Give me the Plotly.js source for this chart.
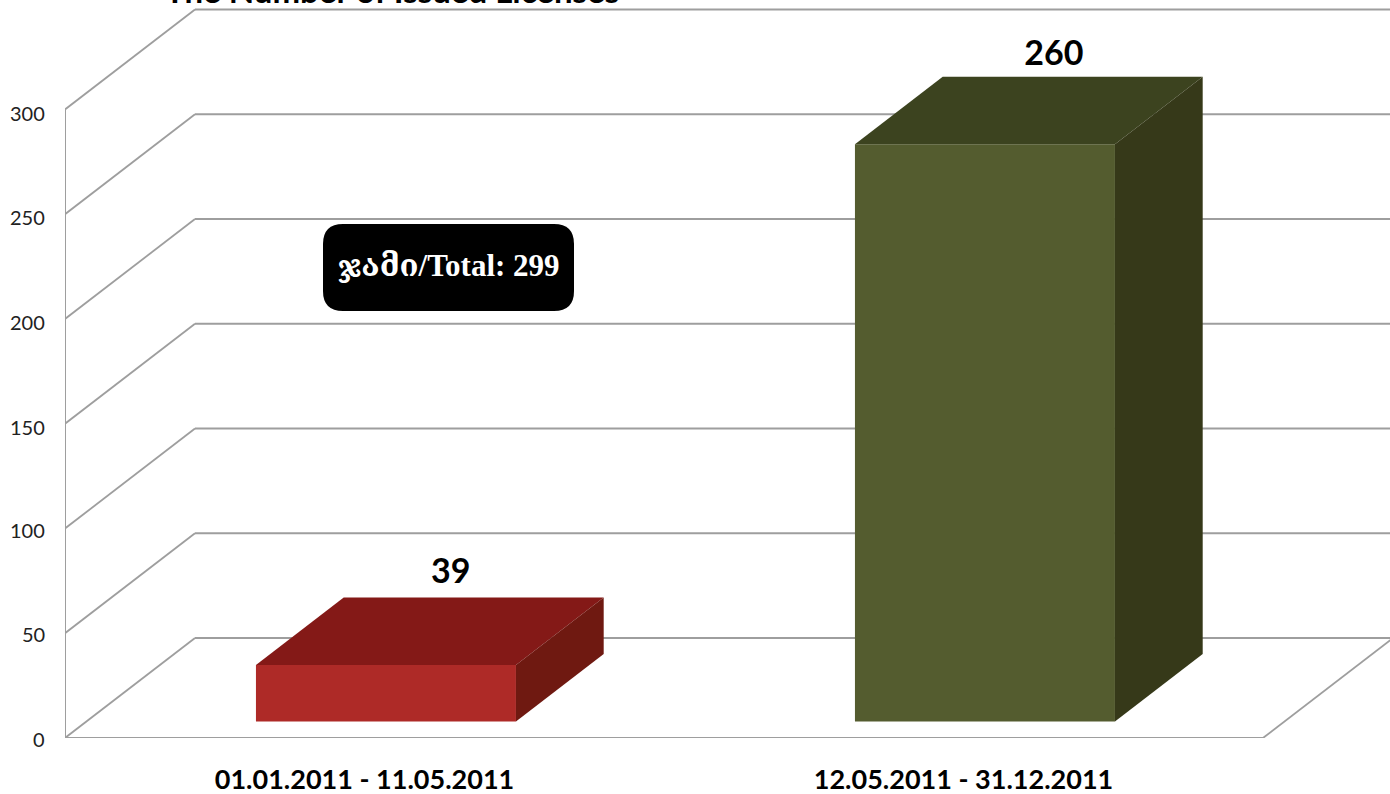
<!DOCTYPE html>
<html><head><meta charset="utf-8">
<script src="https://cdn.plot.ly/plotly-3.0.1.min.js"></script>
<style>html,body{margin:0;padding:0;background:#fff;overflow:hidden}#c{width:1390px;height:794px}</style>
</head><body><div id="c"></div>
<script>
const periods = ['01.01.2011 - 11.05.2011', '12.05.2011 - 31.12.2011'];
const issued = [39, 260];
const drawnHeights = [27, 275.5];
const axisTicks = [0, 50, 100, 150, 200, 250, 300];
const frontColors = ['#AE2A27', '#545C2F'];
const topColors = ['#841917', '#3C431F'];
const sideColors = ['#6F1911', '#363919'];
const titleText = 'The Number of Issued Licenses';
const totalText = 'ჯამი/Total: 299';

const W = 1390, H = 794, L = 65, B = 56;
const unitX = 599, unitY = 2.095;
const depthX = 130 / unitX, depthY = 100 / unitY;
const barWidth = 260 / unitX, d0 = 0.165, d1 = 0.84;
const labelDX = [0.144, 0.151], labelDY = [11, 9.5];
const grid = '#9e9e9e';
const P = (c, v, d) => [c + d * depthX, v + d * depthY];
const paperX = p => (p - L) / (W - L), paperY = p => 1 - p / (H - B);

const line = (a, b, w) => ({type: 'line', layer: 'below', xref: 'x', yref: 'y',
  x0: a[0], y0: a[1], x1: b[0], y1: b[1], line: {color: grid, width: w || 1.8}});
const shapes = [];
const xMax = -0.5 + (W - L) / unitX;
axisTicks.forEach(t => {
  shapes.push(line(P(-0.5, t, 0), P(-0.5, t, 1)));
  shapes.push(line(P(-0.5, t, 1), [xMax, t + depthY], 2));
});
shapes.push(line(P(-0.5, 0, 0), P(-0.5, 300, 0), 2));
shapes.push(line(P(-0.5, 0, 0), P(1.5, 0, 0), 2));
shapes.push(line(P(1.5, 0, 0), P(1.5, 0, 1)));

// rounded black box
const bx0 = paperX(323), bx1 = paperX(574), by0 = paperY(224), by1 = paperY(311);
const rx = 20 / (W - L), ry = 20 / (H - B);
shapes.push({type: 'path', xref: 'paper', yref: 'paper', layer: 'above', fillcolor: '#000', line: {width: 0},
  path: `M ${bx0 + rx} ${by0} L ${bx1 - rx} ${by0} Q ${bx1} ${by0} ${bx1} ${by0 - ry} L ${bx1} ${by1 + ry} Q ${bx1} ${by1} ${bx1 - rx} ${by1} L ${bx0 + rx} ${by1} Q ${bx0} ${by1} ${bx0} ${by1 + ry} L ${bx0} ${by0 - ry} Q ${bx0} ${by0} ${bx0 + rx} ${by0} Z`});

const cats = periods.map((_, i) => i);
const traces = [{
  type: 'bar', x: cats.map(c => c + d0 * depthX), y: drawnHeights, base: cats.map(() => d0 * depthY),
  width: barWidth, marker: {color: frontColors, line: {width: 0}}, hoverinfo: 'skip', showlegend: false
}];
const face = (pts, color) => ({type: 'scatter', mode: 'lines', x: pts.map(p => p[0]), y: pts.map(p => p[1]),
  fill: 'toself', fillcolor: color, line: {width: 0, color: color}, hoverinfo: 'skip', showlegend: false});
cats.forEach(i => {
  const l = i - barWidth / 2, r = i + barWidth / 2, h = drawnHeights[i];
  traces.push(face([P(l, h, d0), P(r, h, d0), P(r, h, d1), P(l, h, d1), P(l, h, d0)], topColors[i]));
  traces.push(face([P(r, 0, d0), P(r, 0, d1), P(r, h, d1), P(r, h, d0), P(r, 0, d0)], sideColors[i]));
});
traces.push({type: 'scatter', mode: 'text', x: cats.map(i => i + labelDX[i]),
  y: cats.map(i => drawnHeights[i] + d1 * depthY + labelDY[i]), text: issued.map(String),
  textposition: 'middle center', textfont: {family: 'Lato, sans-serif', size: 34, color: '#000', weight: 700},
  hoverinfo: 'skip', showlegend: false, cliponaxis: false});

const tickNotes = axisTicks.map(t => ({xref: 'paper', yref: 'y', x: paperX(47), y: t, yshift: t > 100 ? -3 : -1,
  text: String(t), showarrow: false, xanchor: 'right', yanchor: 'middle',
  font: {family: 'Lato, sans-serif', size: 20, color: '#222'}}));

const layout = {
  width: W, height: H, margin: {l: L, r: 0, t: 0, b: B, pad: 0},
  paper_bgcolor: '#fff', plot_bgcolor: '#fff', showlegend: false,
  xaxis: {range: [-0.5, xMax], tickmode: 'array', tickvals: cats, ticktext: periods, showgrid: false, zeroline: false,
    showline: false, ticks: 'outside', ticklen: 18, tickcolor: 'rgba(0,0,0,0)',
    tickfont: {family: 'Lato, sans-serif', size: 27, color: '#000', weight: 700}, fixedrange: true},
  yaxis: {range: [0, (H - B) / unitY], tickmode: 'array', tickvals: axisTicks, showticklabels: false, showgrid: false, zeroline: false,
    showline: false, ticks: '', fixedrange: true},
  shapes: shapes,
  annotations: tickNotes.concat([
    {xref: 'paper', yref: 'paper', x: paperX(392), y: paperY(-10), text: titleText, showarrow: false, xanchor: 'center', yanchor: 'middle',
      font: {family: 'Lato, sans-serif', size: 33, color: '#000', weight: 700}},
    {xref: 'paper', yref: 'paper', x: paperX(449), y: paperY(265), text: totalText, showarrow: false, xanchor: 'center', yanchor: 'middle',
      font: {family: '"Liberation Serif","DejaVu Serif",serif', size: 31, color: '#fff', weight: 700}}
  ])
};
Plotly.newPlot('c', traces, layout, {displayModeBar: false, staticPlot: true});
</script></body></html>
